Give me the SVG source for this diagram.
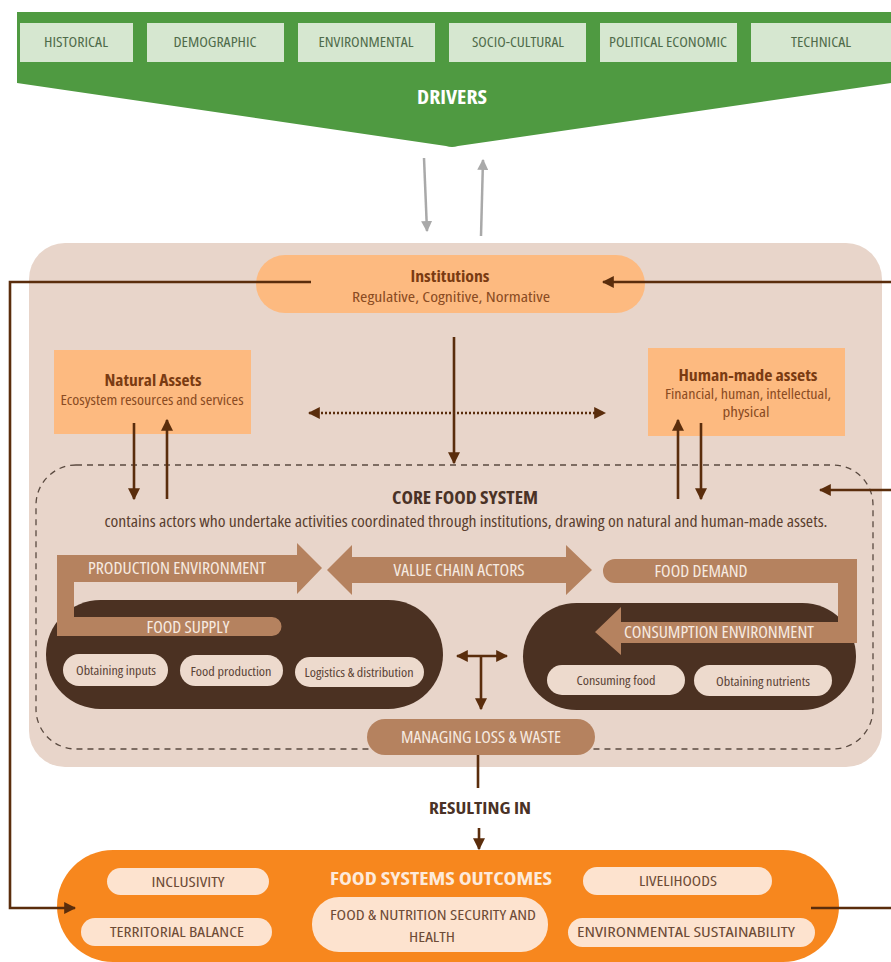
<svg xmlns="http://www.w3.org/2000/svg" width="891" height="962" viewBox="0 0 891 962">
<style>
text{font-family:"Open Sans","Liberation Sans",sans-serif;font-stretch:condensed;text-anchor:middle}
.drv{fill:#d6e7d0}
.drvt{font-size:14px;fill:#4f6b4a}
.org{fill:#fdba80}
.ot{fill:#7a3b12;font-weight:bold;font-size:16px}
.os{fill:#8a4b22;font-size:14px}
.band{fill:#b5825f}
.bt{fill:#f7ebe2;font-size:16px}
.dark{fill:#4b3122}
.sp{fill:#eddacd}
.spt{fill:#5b4336;font-size:13px}
.op{fill:#fde3cf}
.opt{fill:#6d4b36;font-size:14px}
.ln{stroke:#5a2d0c;stroke-width:2.6;fill:none}
</style>
<defs>
<marker id="ah" viewBox="0 0 10 10" refX="9" refY="5" markerWidth="12" markerHeight="12" markerUnits="userSpaceOnUse" orient="auto-start-reverse"><path d="M0,0 L10,5 L0,10 z" fill="#5a2d0c"/></marker>
<marker id="gh" viewBox="0 0 10 10" refX="9" refY="5" markerWidth="11" markerHeight="11" markerUnits="userSpaceOnUse" orient="auto"><path d="M0,0 L10,5 L0,10 z" fill="#a9a9a9"/></marker>
</defs>

<g id="drivers">
<path d="M17,12 H891 V83 L458,146 Q452,148 446,146 L17,83 Z" fill="#4f9a41"/>
<rect class="drv" x="20" y="23" width="113" height="39"/>
<rect class="drv" x="147" y="23" width="137" height="39"/>
<rect class="drv" x="298" y="23" width="137" height="39"/>
<rect class="drv" x="449" y="23" width="137" height="39"/>
<rect class="drv" x="600" y="23" width="137" height="39"/>
<rect class="drv" x="751" y="23" width="140" height="39"/>
<text class="drvt" x="76" y="47" textLength="64" lengthAdjust="spacingAndGlyphs">HISTORICAL</text>
<text class="drvt" x="215" y="47" textLength="83" lengthAdjust="spacingAndGlyphs">DEMOGRAPHIC</text>
<text class="drvt" x="366" y="47" textLength="95" lengthAdjust="spacingAndGlyphs">ENVIRONMENTAL</text>
<text class="drvt" x="518" y="47" textLength="92" lengthAdjust="spacingAndGlyphs">SOCIO-CULTURAL</text>
<text class="drvt" x="668" y="47" textLength="118" lengthAdjust="spacingAndGlyphs">POLITICAL ECONOMIC</text>
<text class="drvt" x="821" y="47" textLength="60" lengthAdjust="spacingAndGlyphs">TECHNICAL</text>
<text x="452" y="104" style="font-size:19px;font-weight:bold;fill:#ffffff" textLength="70" lengthAdjust="spacingAndGlyphs">DRIVERS</text>
</g>

<g id="panel">
<rect x="29" y="243" width="853" height="524" rx="36" fill="#e8d5ca"/>
</g>

<g id="institutions">
<rect class="org" x="256" y="255" width="389" height="58" rx="29"/>
<text class="ot" x="450" y="282" textLength="79" lengthAdjust="spacingAndGlyphs">Institutions</text>
<text class="os" x="451" y="302" textLength="198" lengthAdjust="spacingAndGlyphs">Regulative, Cognitive, Normative</text>
</g>

<g id="natural-assets">
<rect class="org" x="54" y="350" width="197" height="84"/>
<text class="ot" x="153" y="386" textLength="97" lengthAdjust="spacingAndGlyphs">Natural Assets</text>
<text class="os" x="152" y="405" textLength="183" lengthAdjust="spacingAndGlyphs">Ecosystem resources and services</text>
</g>

<g id="human-assets">
<rect class="org" x="648" y="348" width="197" height="88"/>
<text class="ot" x="748" y="381" textLength="139" lengthAdjust="spacingAndGlyphs">Human-made assets</text>
<text class="os" x="748" y="399" textLength="166" lengthAdjust="spacingAndGlyphs">Financial, human, intellectual,</text>
<text class="os" x="746" y="417" textLength="47" lengthAdjust="spacingAndGlyphs">physical</text>
</g>

<g id="core-food-system">
<rect x="36" y="465" width="837" height="284" rx="40" fill="none" stroke="#5a4a40" stroke-width="1.3" stroke-dasharray="6 5"/>
<text x="465" y="504" style="font-size:18px;font-weight:bold;fill:#4a3226" textLength="146" lengthAdjust="spacingAndGlyphs">CORE FOOD SYSTEM</text>
<text x="466" y="527" style="font-size:15.5px;fill:#5a3e2e" textLength="723" lengthAdjust="spacingAndGlyphs">contains actors who undertake activities coordinated through institutions, drawing on natural and human-made assets.</text>
</g>

<g id="food-supply">
<rect class="dark" x="46" y="600" width="397" height="109" rx="54.5"/>
<path class="band" d="M57,555 L297,555 L297,543 L322,568 L297,594 L297,582 L74,582 L74,617 L272,617 A9.5,9.5 0 0 1 272,636 L57,636 Z"/>
<text class="bt" x="177" y="574" style="font-size:17px" textLength="178" lengthAdjust="spacingAndGlyphs">PRODUCTION ENVIRONMENT</text>
<text class="bt" x="188" y="633" style="font-size:17px" textLength="83" lengthAdjust="spacingAndGlyphs">FOOD SUPPLY</text>
<rect class="sp" x="63" y="654" width="105" height="32" rx="16"/>
<rect class="sp" x="180" y="655" width="103" height="31" rx="15.5"/>
<rect class="sp" x="295" y="657" width="129" height="30" rx="15"/>
<text class="spt" x="116" y="675" textLength="80" lengthAdjust="spacingAndGlyphs">Obtaining inputs</text>
<text class="spt" x="231" y="676" textLength="81" lengthAdjust="spacingAndGlyphs">Food production</text>
<text class="spt" x="359" y="677" textLength="109" lengthAdjust="spacingAndGlyphs">Logistics &amp; distribution</text>
</g>

<g id="value-chain-actors">
<path class="band" d="M327,570 L352,545 L352,557 L566,557 L566,545 L592,570 L566,595 L566,583 L352,583 L352,595 Z"/>
<text class="bt" x="459" y="576" textLength="131" lengthAdjust="spacingAndGlyphs">VALUE CHAIN ACTORS</text>
</g>

<g id="food-demand">
<rect class="dark" x="523" y="603" width="333" height="107" rx="53.5"/>
<path class="band" d="M615,559 L857,559 L857,643 L621,643 L621,655 L595,632 L621,607 L621,622 L838,622 L838,583 L615,583 A12,12 0 0 1 615,559 Z"/>
<text class="bt" x="701" y="577" textLength="93" lengthAdjust="spacingAndGlyphs">FOOD DEMAND</text>
<text class="bt" x="719" y="638" textLength="190" lengthAdjust="spacingAndGlyphs">CONSUMPTION ENVIRONMENT</text>
<rect class="sp" x="547" y="665" width="138" height="30" rx="15"/>
<rect class="sp" x="694" y="665" width="138" height="31" rx="15.5"/>
<text class="spt" x="616" y="685" textLength="79" lengthAdjust="spacingAndGlyphs">Consuming food</text>
<text class="spt" x="763" y="686" textLength="94" lengthAdjust="spacingAndGlyphs">Obtaining nutrients</text>
</g>

<g id="managing-loss-waste">
<rect class="band" x="367" y="719" width="228" height="36" rx="18"/>
<text class="bt" x="481" y="743" textLength="160" lengthAdjust="spacingAndGlyphs">MANAGING LOSS &amp; WASTE</text>
</g>

<g id="resulting-in">
<text x="480" y="814" style="font-size:16px;font-weight:bold;fill:#4a3226" textLength="102" lengthAdjust="spacingAndGlyphs">RESULTING IN</text>
</g>

<g id="outcomes">
<rect x="57" y="850" width="782" height="112" rx="56" fill="#f7871e"/>
<text x="441" y="885" style="font-size:18px;font-weight:bold;fill:#fdeadb" textLength="222" lengthAdjust="spacingAndGlyphs">FOOD SYSTEMS OUTCOMES</text>
<rect class="op" x="107" y="868" width="162" height="27" rx="13.5"/>
<rect class="op" x="81" y="918" width="191" height="28" rx="14"/>
<rect class="op" x="312" y="897" width="236" height="55" rx="27"/>
<rect class="op" x="583" y="867" width="189" height="28" rx="14"/>
<rect class="op" x="568" y="918" width="247" height="29" rx="14.5"/>
<text class="opt" x="188" y="887" textLength="73" lengthAdjust="spacingAndGlyphs">INCLUSIVITY</text>
<text class="opt" x="177" y="937" textLength="134" lengthAdjust="spacingAndGlyphs">TERRITORIAL BALANCE</text>
<text class="opt" x="433" y="920" textLength="206" lengthAdjust="spacingAndGlyphs">FOOD &amp; NUTRITION SECURITY AND</text>
<text class="opt" x="432" y="942" textLength="46" lengthAdjust="spacingAndGlyphs">HEALTH</text>
<text class="opt" x="678" y="886" textLength="78" lengthAdjust="spacingAndGlyphs">LIVELIHOODS</text>
<text class="opt" x="686" y="937" textLength="218" lengthAdjust="spacingAndGlyphs">ENVIRONMENTAL SUSTAINABILITY</text>
</g>

<g id="connectors">
<line x1="424" y1="158" x2="427" y2="231" stroke="#a9a9a9" stroke-width="2.5" marker-end="url(#gh)"/>
<line x1="481" y1="236" x2="483" y2="160" stroke="#a9a9a9" stroke-width="2.5" marker-end="url(#gh)"/>
<path class="ln" d="M311,282 H10 V908 H75" marker-end="url(#ah)"/>
<path class="ln" d="M891,282 H603" marker-end="url(#ah)"/>
<path class="ln" d="M891,490 H820" marker-end="url(#ah)"/>
<path class="ln" d="M811,908 H891"/>
<line class="ln" x1="454" y1="337" x2="454" y2="463" marker-end="url(#ah)"/>
<line class="ln" x1="309" y1="413" x2="605" y2="413" stroke-width="3" stroke-dasharray="2 2" marker-start="url(#ah)" marker-end="url(#ah)"/>
<line class="ln" x1="134" y1="423" x2="134" y2="499" marker-end="url(#ah)"/>
<line class="ln" x1="167" y1="499" x2="167" y2="420" marker-end="url(#ah)"/>
<line class="ln" x1="678" y1="499" x2="678" y2="420" marker-end="url(#ah)"/>
<line class="ln" x1="701" y1="423" x2="701" y2="499" marker-end="url(#ah)"/>
<line class="ln" x1="457" y1="656" x2="507" y2="656" marker-start="url(#ah)" marker-end="url(#ah)"/>
<line class="ln" x1="481" y1="656" x2="481" y2="709" marker-end="url(#ah)"/>
<line class="ln" x1="478" y1="755" x2="478" y2="788"/>
<line class="ln" x1="479" y1="828" x2="479" y2="849" marker-end="url(#ah)"/>
</g>
</svg>
